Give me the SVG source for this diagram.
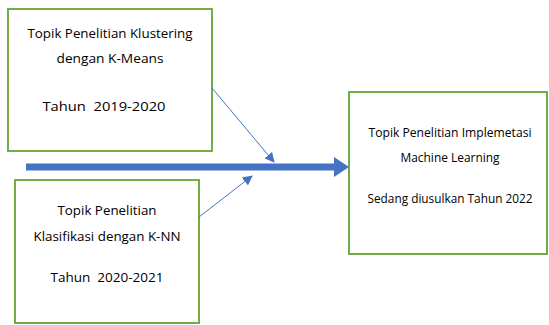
<svg xmlns="http://www.w3.org/2000/svg" width="549" height="325" viewBox="0 0 549 325">
  <style>
    .box { fill: #ffffff; stroke: #70AD47; stroke-width: 2; }
    .lbl { font-family: "Open Sans", "Noto Sans", "Liberation Sans", sans-serif; font-size: 13.5px; fill: #000000; text-anchor: middle; }
    .tight { font-size: 12.5px; }
    .thin { stroke: #4472C4; stroke-width: 1; fill: none; }
    .main { stroke: #4472C4; stroke-width: 7; fill: none; }
  </style>
  <defs>
    <marker id="headSmall" viewBox="0 0 10 10" refX="9" refY="5" markerWidth="10" markerHeight="10" markerUnits="userSpaceOnUse" orient="auto">
      <path d="M0,0 L10,5 L0,10 Z" fill="#4472C4"/>
    </marker>
  </defs>
  <rect width="549" height="325" fill="#ffffff"/>

  <g id="node-klustering">
    <rect class="box" x="8" y="9" width="204" height="142"/>
    <text class="lbl" x="110" y="38" textLength="165" lengthAdjust="spacingAndGlyphs">Topik Penelitian Klustering</text>
    <text class="lbl" x="110" y="63" textLength="107" lengthAdjust="spacingAndGlyphs">dengan K-Means</text>
    <text class="lbl" x="104" y="111" textLength="123" lengthAdjust="spacingAndGlyphs" xml:space="preserve">Tahun  2019-2020</text>
  </g>

  <g id="node-klasifikasi">
    <rect class="box" x="15" y="180" width="184" height="143"/>
    <text class="lbl" x="107" y="215" textLength="99" lengthAdjust="spacingAndGlyphs">Topik Penelitian</text>
    <text class="lbl" x="107" y="241" textLength="147" lengthAdjust="spacingAndGlyphs">Klasifikasi dengan K-NN</text>
    <text class="lbl" x="107" y="282" textLength="113" lengthAdjust="spacingAndGlyphs" xml:space="preserve">Tahun  2020-2021</text>
  </g>

  <g id="node-ml">
    <rect class="box" x="349" y="92" width="198" height="162"/>
    <text class="lbl" x="450" y="137" textLength="163" lengthAdjust="spacingAndGlyphs">Topik Penelitian Implemetasi</text>
    <text class="lbl" x="450" y="162" textLength="99" lengthAdjust="spacingAndGlyphs">Machine Learning</text>
    <text class="lbl tight" x="450" y="203" textLength="165" lengthAdjust="spacingAndGlyphs">Sedang diusulkan Tahun 2022</text>
  </g>

  <g id="connectors">
    <line class="main" x1="26" y1="167" x2="335" y2="167"/>
    <path d="M334,157 L349,167 L334,177 Z" fill="#4472C4"/>
    <line class="thin" x1="212" y1="88" x2="274" y2="162" marker-end="url(#headSmall)"/>
    <line class="thin" x1="199" y1="217" x2="252" y2="176" marker-end="url(#headSmall)"/>
  </g>
</svg>
